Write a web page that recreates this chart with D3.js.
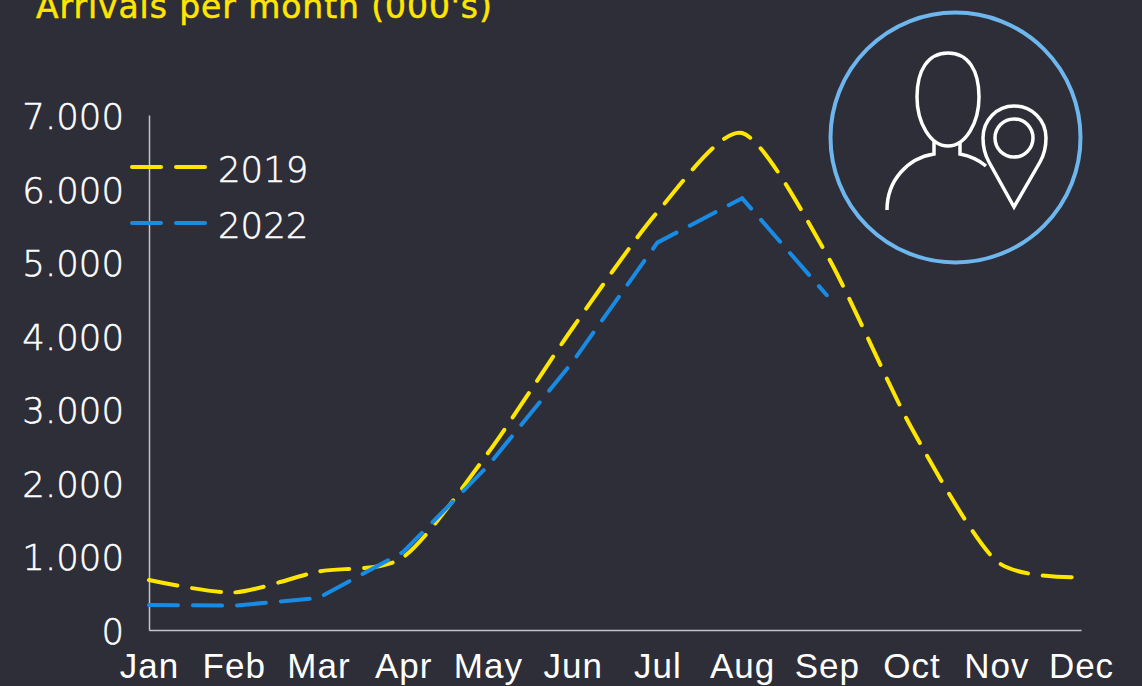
<!DOCTYPE html>
<html>
<head>
<meta charset="utf-8">
<script src="https://cdn.jsdelivr.net/npm/d3@7"></script>
<style>
html,body{margin:0;padding:0;background:#2E2E38;overflow:hidden}
svg{display:block}
</style>
</head>
<body>
<svg id="c" width="1142" height="686"></svg>
<script>
const months = ["Jan","Feb","Mar","Apr","May","Jun","Jul","Aug","Sep","Oct","Nov","Dec"];
const yTicks = [0,1000,2000,3000,4000,5000,6000,7000];
const arrivals2019 = [680,510,795,990,2405,4105,5680,6755,5100,2745,940,720];
const arrivals2022 = [340,330,435,1060,2230,3645,5265,5870,4550];
const seriesNames = ["2019","2022"];
const seriesColors = ["#FFE600","#188CE5"];
const seriesDash = ["29 14.8","29 15"];
const titleText = "Arrivals per month (000's)";
const numFont = '"DejaVu Sans",sans-serif';
const monFont = '"Liberation Sans",sans-serif';

const svg = d3.select("#c");
const x = d3.scalePoint().domain(months).range([149,1081]);
const y = d3.scaleLinear().domain([0,7000]).range([630,115]);
const fmt = v => v === 0 ? "0" : d3.format(",")(v).replace(",", ".");

const yAxis = d3.axisLeft(y).tickValues(yTicks).tickFormat(fmt).tickSize(0).tickPadding(25);
const xAxis = d3.axisBottom(x).tickSize(0).tickPadding(23);

const gy = svg.append("g").attr("transform","translate(149,0)").call(yAxis);
const gx = svg.append("g").attr("transform","translate(0,630)").call(xAxis);
[gx,gy].forEach(g=>{
  g.select(".domain").attr("stroke","#C4C4CD").attr("stroke-width",1.5);
  g.selectAll("text").attr("fill","#fff");
});
gy.selectAll("text").attr("stroke","#fff").attr("stroke-width",0.5).style("font-family",numFont).style("font-size","35.5px").style("font-weight",200).attr("dy","0.38em");
gx.selectAll("text").style("font-family",monFont).style("font-size","35px").style("letter-spacing","1px");

svg.append("text").attr("x",36).attr("y",18).attr("fill","#FFE600").attr("stroke","#FFE600").attr("stroke-width",0.5)
  .style("font-family",numFont).style("font-size","33px").style("letter-spacing","0.92px").text(titleText);

const line = d3.line().x((d,i)=>x(months[i])).y(d=>y(d));
const curves = [d3.curveCardinal.tension(0.25), d3.curveLinear];
[arrivals2019,arrivals2022].forEach((s,i)=>{
  svg.append("path").datum(s).attr("d",line.curve(curves[i])).attr("fill","none")
    .attr("stroke",seriesColors[i]).attr("stroke-width",4)
    .attr("stroke-linecap","round").attr("stroke-dasharray",seriesDash[i]);
});

const legY = [167,223];
seriesNames.forEach((n,i)=>{
  const g = svg.append("g");
  g.append("line").attr("x1",132).attr("x2",206).attr("y1",legY[i]).attr("y2",legY[i])
    .attr("stroke",seriesColors[i]).attr("stroke-width",4)
    .attr("stroke-linecap","round").attr("stroke-dasharray","29 15");
  g.append("text").attr("x",218).attr("y",legY[i]+15).attr("fill","#fff").attr("stroke","#fff").attr("stroke-width",0.5)
    .style("font-family",numFont).style("font-size","35.5px").style("font-weight",200).text(n);
});

// decorative icon
const ic = svg.append("g").attr("fill","none");
ic.append("circle").attr("cx",955.5).attr("cy",137.5).attr("r",125).attr("stroke","#6DB6EE").attr("stroke-width",4);
const w = ic.append("g").attr("stroke","#fff").attr("stroke-width",3.5);
w.append("path").attr("d","M948 53C928 53 917 70 917 97C917 122 930 146 948 146C966 146 979 122 979 97C979 70 968 53 948 53Z");
w.append("path").attr("d","M934 141V154C908 158 887 180 887 210");
w.append("path").attr("d","M960 141V154C970 156 979 160 986 166");
w.append("path").attr("d","M1014 207L989 162C985 155 983 146 983 138C983 120 997 106 1014 106C1032 106 1046 120 1046 138C1046 146 1044 155 1040 162Z");
w.append("circle").attr("cx",1014).attr("cy",138).attr("r",19);
</script>
</body>
</html>
